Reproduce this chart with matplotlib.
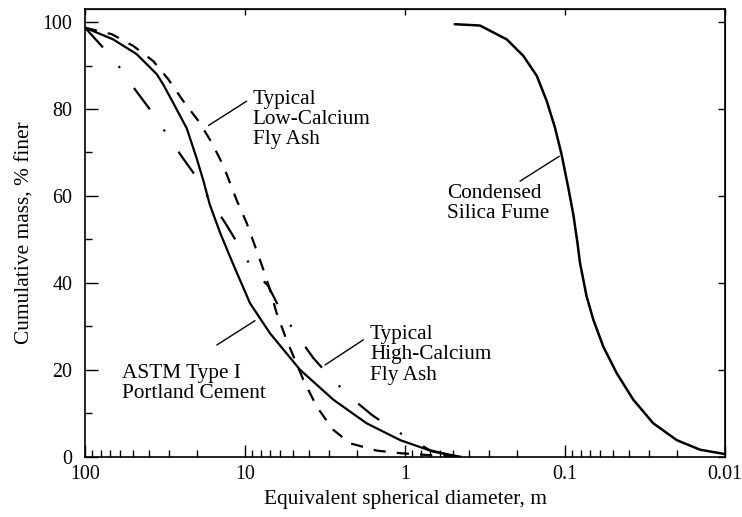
import numpy as np
import matplotlib
matplotlib.use("Agg")
import matplotlib.pyplot as plt
from matplotlib.ticker import FixedLocator, LogLocator, NullFormatter, MultipleLocator

plt.rcParams['font.family'] = ['Liberation Serif', 'DejaVu Serif']
plt.rcParams['font.size'] = 14.4

# ASTM Type I Portland cement (solid)
cement_d = [100, 66.6, 47.5, 35.6, 32.4, 28, 23.1, 20, 18.2, 16.6, 14.3, 12.4, 11,
            9.3, 6.98, 4.53, 2.8, 1.74, 1.07, 0.665, 0.45]
cement_y = [98.7, 96, 92.6, 88, 85.6, 81.3, 75.5, 68.5, 63.5, 58, 51.5, 46, 41.5,
            35.3, 28.4, 20, 13.1, 7.7, 3.8, 1.15, 0]

# typical low-calcium fly ash (dashed)
lowca_d = [100, 68, 49.9, 37.4, 30.1, 24.3, 19.5, 16.1, 13.6, 11.3, 9.77, 8.65,
           7.67, 6.98, 6.34, 5.5, 4.32, 3.56, 2.81, 2.21, 1.5, 1.07, 0.73, 0.45]
lowca_y = [98.7, 97.2, 94.5, 91, 86.8, 81.8, 77.2, 72.2, 66.8, 59.1, 53.8, 48.4,
           43, 38.4, 33, 26.9, 17.7, 11.5, 6.2, 3.1, 1.4, 0.8, 0.4, 0]

# typical high-calcium fly ash (dash-dot)
highca_d = [100, 78.7, 61.7, 48.7, 39.3, 31.2, 24.9, 21, 16.6, 13.3, 11, 9.08,
            7.14, 6.17, 4.75, 3.74, 2.94, 2.21, 1.61, 1.21, 0.866, 0.70, 0.525, 0.45]
highca_y = [98.7, 94.5, 89.9, 84.5, 79.9, 74.5, 69.1, 65.3, 59.1, 53.8, 48.8, 43.4,
            39.2, 34.6, 28, 22.7, 18.4, 13.8, 9.6, 6.5, 3.5, 1.5, 0.4, 0]

# condensed silica fume (solid)
silica_d = [0.487, 0.340, 0.231, 0.182, 0.150, 0.130, 0.1155, 0.105, 0.0953,
            0.0887, 0.0838, 0.0806, 0.0733, 0.0665, 0.0576, 0.0475, 0.0374,
            0.0281, 0.020, 0.0143, 0.0100]
silica_y = [99.5, 99.2, 96, 92.2, 87.6, 81.8, 75.7, 69.5, 61.8,
            55.7, 49.5, 44.6, 36.9, 31.5, 25.3, 19.2, 13.1,
            7.7, 3.8, 1.6, 0.6]

x_ticks = [100, 10, 1, 0.1, 0.01]
x_labels = ['100', '10', '1', '0.1', '0.01']

fig = plt.figure(figsize=(7.42, 5.17), dpi=100)
ax = fig.add_axes([85 / 742, 1 - 456.7 / 517, 640 / 742, 447.7 / 517])

lw = 1.6
ax.plot(cement_d, cement_y, color='black', lw=lw)
ax.plot(lowca_d, lowca_y, color='black', lw=lw, linestyle=(0, (5.5, 5)))
ax.plot(highca_d, highca_y, color='black', lw=lw, linestyle=(0, (12, 11, 1, 11)))
ax.plot(silica_d, silica_y, color='black', lw=lw + 0.2)

ax.set_xscale('log')
ax.set_xlim(100, 0.01)
ax.set_ylim(0, 103)

ax.xaxis.set_major_locator(FixedLocator(x_ticks))
ax.set_xticklabels(x_labels)
ax.xaxis.set_minor_locator(LogLocator(base=10, subs=np.arange(2, 10)))
ax.xaxis.set_minor_formatter(NullFormatter())
ax.yaxis.set_major_locator(MultipleLocator(20))
ax.yaxis.set_minor_locator(MultipleLocator(10))

ax.tick_params(which='major', direction='in', length=9, width=1)
ax.tick_params(which='minor', direction='in', length=5, width=1)
ax.tick_params(axis='y', which='major', pad=9)
ax.tick_params(axis='x', which='major', pad=6)

for s in ax.spines.values():
    s.set_linewidth(1.2)

# top and right axes carry only short major ticks
top = ax.secondary_xaxis('top')
top.xaxis.set_major_locator(FixedLocator(x_ticks))
top.xaxis.set_minor_locator(FixedLocator([]))
top.tick_params(direction='in', length=4, width=1, labeltop=False)
right = ax.secondary_yaxis('right')
right.yaxis.set_major_locator(MultipleLocator(20))
right.yaxis.set_minor_locator(FixedLocator([]))
right.tick_params(direction='in', length=5, width=1, labelright=False)

ax.set_xlabel('Equivalent spherical diameter, m', fontsize=15.4, labelpad=4)
ax.set_ylabel('Cumulative mass, % finer', fontsize=15.4, labelpad=6)

txt = dict(fontsize=15.3, ha='left', va='center', linespacing=1.08)
lead = dict(arrowstyle='-', color='black', lw=1, shrinkA=0, shrinkB=0)

ax.text(8.96, 77.6, 'Typical\nLow-Calcium\nFly Ash', **txt)
ax.annotate('', xy=(16.9, 76.2), xytext=(9.76, 81.8), arrowprops=lead)

ax.text(59, 16.9, 'ASTM Type I\nPortland Cement', **txt)
ax.annotate('', xy=(15.0, 25.7), xytext=(8.66, 31.3), arrowprops=lead)

ax.text(1.655, 23.4, 'Typical\nHigh-Calcium\nFly Ash', **txt)
ax.annotate('', xy=(3.16, 21.1), xytext=(1.82, 26.9), arrowprops=lead)

ax.text(0.549, 58.2, 'Condensed\nSilica Fume', **txt)
ax.annotate('', xy=(0.191, 63.4), xytext=(0.1087, 69.1), arrowprops=lead)

fig.savefig('out.png', dpi=100)
